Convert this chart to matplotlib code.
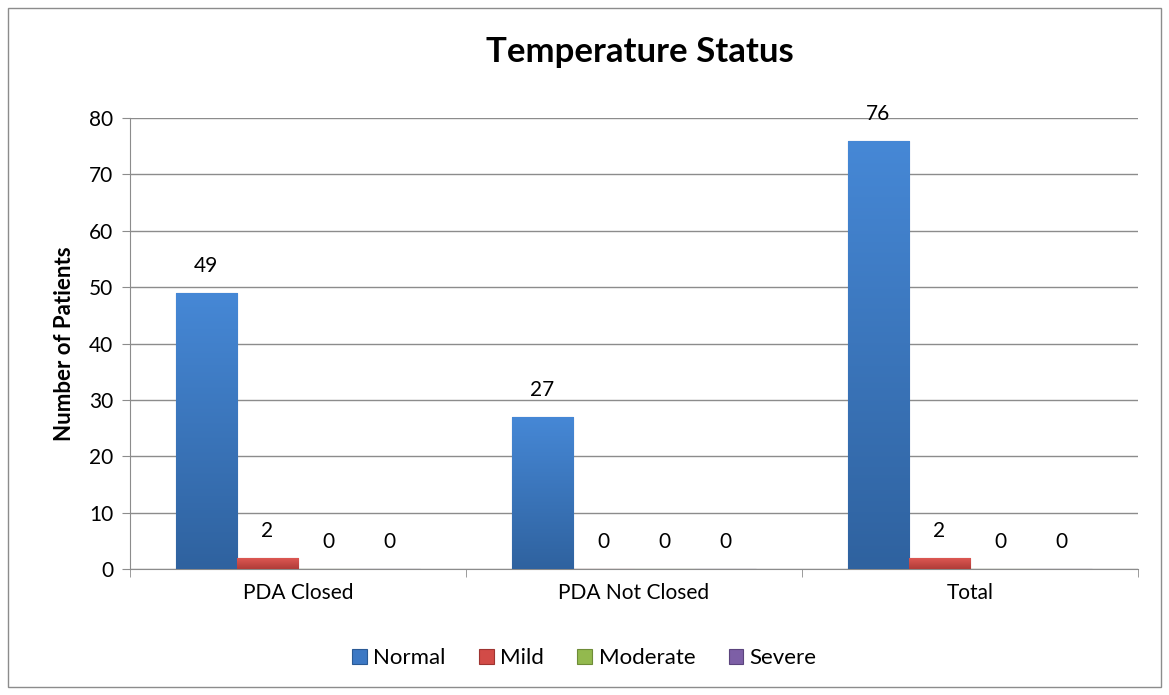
import numpy as np
import matplotlib.pyplot as plt
from matplotlib.patches import Rectangle
from matplotlib.colors import LinearSegmentedColormap

# Temperature status by PDA outcome
categories = ['PDA Closed', 'PDA Not Closed', 'Total']
series_names = ['Normal', 'Mild', 'Moderate', 'Severe']
normal = [49, 27, 76]
mild = [2, 0, 2]
moderate = [0, 0, 0]
severe = [0, 0, 0]
y_ticks = [0, 10, 20, 30, 40, 50, 60, 70, 80]

colors = ['#3C78C4', '#D24B47', '#93B94E', '#7D5FA6']
tops = ['#4688D6', '#E05A55', '#A6CC5E', '#9174BA']
bottoms = ['#2F629F', '#B03C38', '#7A9C3E', '#654C8A']
edges = ['#2A5A95', '#9E3431', '#6E8C38', '#5B447D']

plt.rcParams['font.family'] = ['Lato', 'DejaVu Sans']

fig = plt.figure(figsize=(11.69, 6.95), dpi=100)
ax = fig.add_axes([130 / 1169, 1 - 569 / 695, 1008 / 1169, 451 / 695])

# chart frame
fig.patches.append(Rectangle((8 / 1169, 8 / 695), 1153 / 1169, 679 / 695,
                             transform=fig.transFigure, fill=False,
                             edgecolor='#8C8C8C', linewidth=1.0))

x = np.arange(len(categories))
bw = 0.182
data = [normal, mild, moderate, severe]
for i, vals in enumerate(data):
    pos = x - 1.5 * bw + i * bw
    bars = ax.bar(pos, vals, width=bw, color=colors[i], edgecolor=edges[i],
                  linewidth=0.8, label=series_names[i], zorder=3)
    # vertical shading inside each bar
    cmap = LinearSegmentedColormap.from_list('g%d' % i, [bottoms[i], tops[i]])
    grad = np.linspace(0, 1, 256).reshape(-1, 1)
    for b in bars:
        h = b.get_height()
        if h <= 0:
            continue
        x0 = b.get_x()
        im = ax.imshow(grad, cmap=cmap, origin='lower', aspect='auto',
                       extent=[x0, x0 + bw, 0, h], zorder=3.5)
        im.set_clip_path(b)
    for p, v in zip(pos, vals):
        ax.text(p, v + 3.0, str(v), ha='center', va='bottom',
                fontsize=15, color='black')

ax.set_xlim(-0.5, 2.5)
ax.set_ylim(0, 80)
ax.set_yticks(y_ticks)
ax.set_xticks(x)
ax.set_xticklabels(categories)
ax.set_xticks([-0.5, 0.5, 1.5, 2.5], minor=True)
ax.tick_params(axis='x', which='major', length=0, pad=10, labelsize=15)
ax.tick_params(axis='x', which='minor', length=6, color='#8C8C8C')
ax.tick_params(axis='y', length=6, color='#8C8C8C', labelsize=15, pad=6)

ax.grid(axis='y', color='#8C8C8C', linewidth=1.0, zorder=0)
for s in ['top', 'right']:
    ax.spines[s].set_visible(False)
for s in ['left', 'bottom']:
    ax.spines[s].set_color('#8C8C8C')

ax.set_ylabel('Number of Patients', fontsize=16, fontweight='bold', labelpad=10)
fig.text(640 / 1169, 1 - 52 / 695, 'Temperature Status', ha='center',
         va='center', fontsize=25, fontweight='bold')

ax.legend(loc='center', bbox_to_anchor=(0.5, 1 - 658 / 695), ncol=4,
          frameon=False, fontsize=16, handlelength=0.65, handleheight=0.65,
          handletextpad=0.3, columnspacing=1.5,
          bbox_transform=fig.transFigure)

fig.savefig('out.png', dpi=100)
